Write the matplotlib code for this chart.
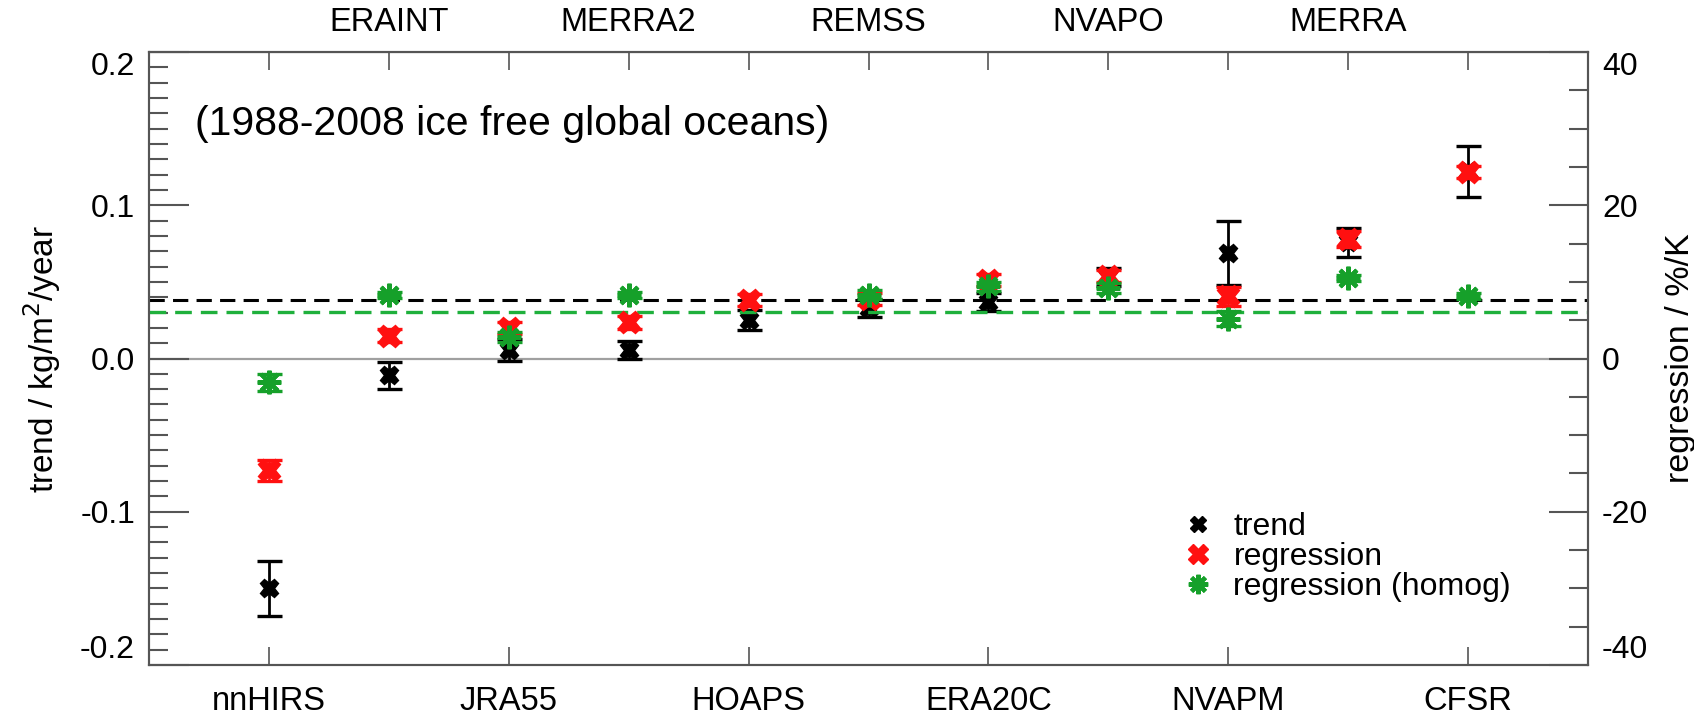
import numpy as np
import matplotlib
matplotlib.use("Agg")
import matplotlib.pyplot as plt
from matplotlib.lines import Line2D

# ---- data ----
categories = ['nnHIRS', 'ERAINT', 'JRA55', 'MERRA2', 'HOAPS', 'REMSS',
              'ERA20C', 'NVAPO', 'NVAPM', 'MERRA', 'CFSR']
# trend in kg/m^2/year (left axis)
trend = [-0.150, -0.011, 0.0055, 0.0055, 0.0251, 0.033, 0.037, 0.053, 0.0687, 0.0757, 0.1222]
trend_err = [0.0177, 0.009, 0.007, 0.006, 0.0065, 0.006, 0.006, 0.006, 0.0209, 0.0093, 0.0167]
# regression in %/K (right axis)
regression = [-14.6, 3.0, 4.0, 4.7, 7.6, 7.8, 10.2, 10.8, 8.1, 15.6, 24.3]
regression_err = [1.4, 0.8, 0.8, 0.8, 0.8, 0.8, 0.8, 0.8, 1.2, 1.0, 0.8]
homog = [-3.1, 8.3, 2.8, 8.3, np.nan, 8.3, 9.4, 9.2, 5.2, 10.5, 8.1]
homog_err = [1.1, 0.4, 0.6, 0.4, np.nan, 0.6, 0.6, 0.6, 1.0, 0.4, 0.4]
trend_mean = 0.038      # black dashed line (left axis)
homog_mean = 6.1        # green dashed line (right axis, %/K)
title_text = "(1988-2008 ice free global oceans)"

plt.rcParams['font.family'] = ['Liberation Sans', 'DejaVu Sans']

GREEN = '#16a02a'
GREEN_LINE = '#1fb03c'
RED = '#ff1010'
AXC = '#555555'
STAR = (8, 2, 0)

fig = plt.figure(figsize=(16.94, 7.16), dpi=100)
ax = fig.add_axes([149/1694, 1-665/716, (1588-149)/1694, (665-52)/716])
ax2 = ax.twinx()

x = np.arange(1, len(categories) + 1)

ax.set_xlim(0, 12)
ax.set_ylim(-0.2, 0.2)
ax2.set_ylim(-40, 40)

# zero line and dashed means
ax.axhline(0, color='#a0a0a0', lw=1.6, zorder=1)
ax.axhline(trend_mean, color='black', lw=2.2, dashes=(5, 2.7), zorder=2)
ax2.axhline(homog_mean, color=GREEN_LINE, lw=2.4, dashes=(5, 2.7), zorder=1)

# trend (black)
ax.errorbar(x, trend, yerr=trend_err, fmt='none', ecolor='black',
            elinewidth=2, capsize=9, capthick=2.4, zorder=3)
ax.plot(x, trend, ls='none', marker='X', color='black', ms=13, zorder=3)
# regression (red)
ax2.errorbar(x, regression, yerr=regression_err, fmt='none', ecolor=RED,
             elinewidth=2, capsize=9, capthick=2.4, zorder=3)
ax2.plot(x, regression, ls='none', marker='X', color=RED, ms=16, zorder=3)
# regression homog (green)
ax2.errorbar(x, homog, yerr=homog_err, fmt='none', ecolor=GREEN,
             elinewidth=2, capsize=9, capthick=2.4, zorder=4)
ax2.plot(x, homog, ls='none', marker=STAR, color=GREEN, mec=GREEN, ms=17,
         mew=3, zorder=4)

# bottom ticks/labels (odd categories)
ax.set_xticks(x[::2])
ax.set_xticklabels(categories[::2])
ax.tick_params(axis='x', which='both', direction='in', length=13, width=1.2,
               color=AXC, labelsize=23.5, pad=15, top=False)

# top ticks at every category, labels at even categories
sec = ax.secondary_xaxis('top')
sec.set_xticks(x)
sec.set_xticklabels([c if i % 2 == 1 else '' for i, c in enumerate(categories)])
sec.tick_params(axis='x', direction='in', length=13, width=1.2, color=AXC,
                labelsize=23.5, pad=10)
sec.spines['top'].set_color(AXC)

# left y axis
ax.set_yticks([-0.2, -0.1, 0.0, 0.1, 0.2])
ax.set_yticklabels(['-0.2', '-0.1', '0.0', '0.1', '0.2'])
ax.set_yticks(np.arange(-0.2, 0.2001, 0.01), minor=True)
ax.tick_params(axis='y', which='major', direction='in', length=29, width=1.5,
               color=AXC, labelsize=23, pad=10, right=False)
ax.tick_params(axis='y', which='minor', direction='in', length=14, width=1.5,
               color=AXC, right=False)
ax.set_ylabel('trend / kg/m$^2$/year', fontsize=24, labelpad=12)

# right y axis
ax2.set_yticks([-40, -20, 0, 20, 40])
ax2.set_yticklabels(['-40', '-20', '0', '20', '40'])
ax2.set_yticks(np.arange(-40, 40.01, 5), minor=True)
ax2.tick_params(axis='y', which='major', direction='in', length=28, width=1.5,
                color=AXC, labelsize=23, pad=10)
ax2.tick_params(axis='y', which='minor', direction='in', length=14, width=1.5,
                color=AXC)
ax2.set_ylabel('regression / %/K', fontsize=24.5, labelpad=12)

# shift end labels inward like the reference
for axis in (ax, ax2):
    labs = axis.get_yticklabels()
    labs[0].set_va('bottom')
    labs[-1].set_va('top')

for a in (ax, ax2):
    for s in a.spines.values():
        s.set_color(AXC)
        s.set_linewidth(1.5)

# title annotation
ax.text(0.032, 0.882, title_text, transform=ax.transAxes, fontsize=29.5,
        family=['Liberation Sans Narrow', 'Liberation Sans', 'DejaVu Sans'],
        va='center', ha='left')

# legend
handles = [Line2D([], [], ls='none', marker='X', color='black', ms=12),
           Line2D([], [], ls='none', marker='X', color=RED, ms=14),
           Line2D([], [], ls='none', marker=STAR, color=GREEN, ms=14, mew=3)]
leg = ax2.legend(handles, ['trend', 'regression', 'regression (homog)'],
                 loc='center left', bbox_to_anchor=(0.707, 0.176), frameon=False,
                 fontsize=23, labelspacing=0.0, handlelength=1.0,
                 handletextpad=0.6, borderpad=0)

fig.savefig('out.png', dpi=100)
